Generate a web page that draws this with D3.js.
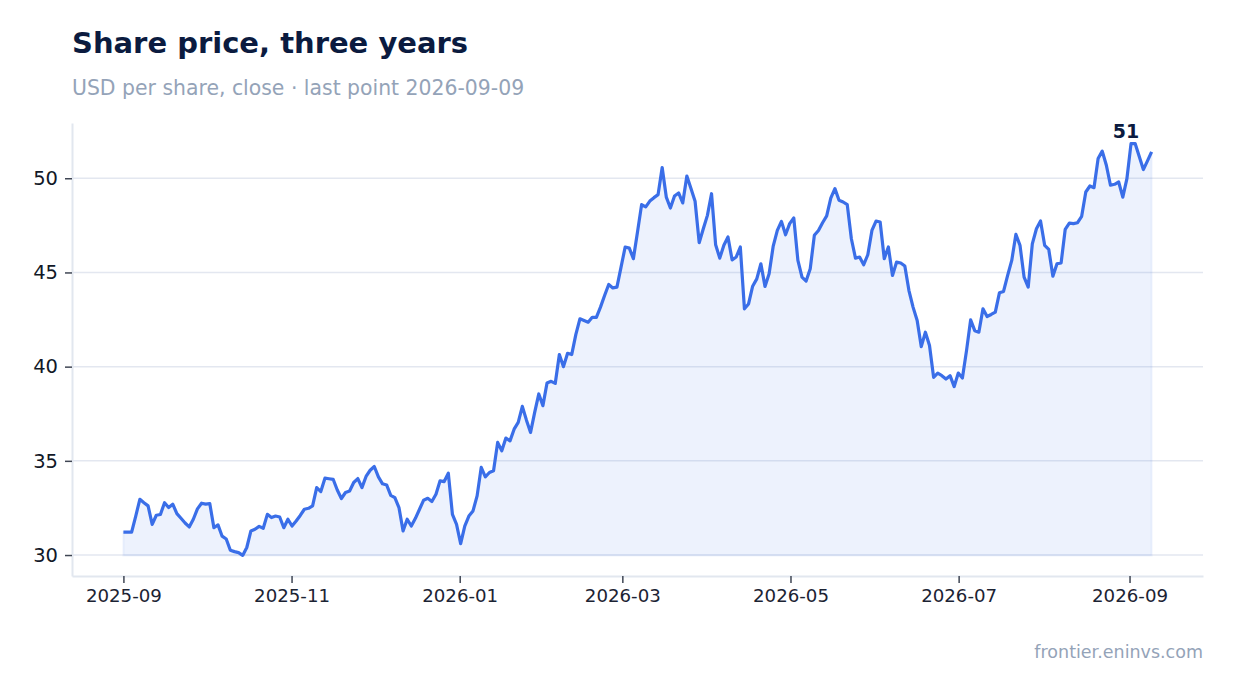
<!DOCTYPE html>
<html>
<head>
<meta charset="utf-8">
<script src="https://cdn.jsdelivr.net/npm/d3@7"></script>
<style>
  body { margin: 0; background: #fff; }
  svg { display: block; font-family: "DejaVu Sans", sans-serif; }
</style>
</head>
<body>
<svg id="chart" width="1234" height="693"></svg>
<script>
// first and last close, points are evenly spaced in between
const startDate = "2025-09-01";
const endDate = "2026-09-09";

// closing price, USD per share
const closes = [
  31.22, 31.22, 31.22, 32.07, 32.96, 32.78, 32.61, 31.63, 32.11, 32.15,
  32.78, 32.52, 32.70, 32.20, 31.95, 31.70, 31.49, 31.90, 32.45, 32.75,
  32.70, 32.73, 31.45, 31.60, 31.00, 30.85, 30.25, 30.18, 30.13, 29.98,
  30.40, 31.28, 31.37, 31.52, 31.42, 32.16, 31.99, 32.07, 32.02, 31.45,
  31.90, 31.54, 31.81, 32.10, 32.43, 32.48, 32.61, 33.58, 33.37, 34.08,
  34.05, 34.02, 33.45, 33.00, 33.32, 33.40, 33.85, 34.06, 33.58, 34.17,
  34.50, 34.70, 34.15, 33.78, 33.72, 33.17, 33.05, 32.52, 31.28, 31.90,
  31.54, 31.95, 32.43, 32.91, 33.01, 32.84, 33.23, 33.94, 33.90, 34.34,
  32.16, 31.63, 30.60, 31.54, 32.07, 32.34, 33.14, 34.65, 34.15, 34.38,
  34.47, 35.98, 35.53, 36.21, 36.06, 36.68, 37.04, 37.89, 37.16, 36.51,
  37.57, 38.55, 37.93, 39.13, 39.22, 39.11, 40.64, 40.00, 40.71, 40.64,
  41.70, 42.54, 42.45, 42.36, 42.62, 42.62, 43.16, 43.78, 44.36, 44.18,
  44.22, 45.28, 46.35, 46.29, 45.73, 47.15, 48.60, 48.48, 48.79, 48.97,
  49.13, 50.57, 49.00, 48.42, 49.06, 49.22, 48.69, 50.12, 49.45, 48.78,
  46.58, 47.32, 48.03, 49.18, 46.47, 45.76, 46.44, 46.88, 45.67, 45.82,
  46.35, 43.07, 43.33, 44.27, 44.66, 45.46, 44.26, 44.93, 46.40, 47.23,
  47.71, 47.00, 47.59, 47.89, 45.64, 44.75, 44.54, 45.20, 46.97, 47.23,
  47.64, 48.00, 48.95, 49.45, 48.83, 48.74, 48.60, 46.79, 45.76, 45.82,
  45.41, 45.94, 47.23, 47.73, 47.68, 45.73, 46.35, 44.84, 45.55, 45.50,
  45.34, 44.04, 43.16, 42.45, 41.06, 41.83, 41.12, 39.43, 39.65, 39.52,
  39.34, 39.52, 38.94, 39.66, 39.40, 40.85, 42.48, 41.91, 41.83, 43.07,
  42.66, 42.77, 42.89, 43.92, 43.99, 44.84, 45.64, 47.02, 46.44, 44.75,
  44.22, 46.52, 47.32, 47.73, 46.44, 46.22, 44.80, 45.46, 45.51, 47.29,
  47.62, 47.59, 47.64, 47.98, 49.27, 49.59, 49.50, 51.05, 51.44, 50.69,
  49.63, 49.68, 49.80, 49.00, 49.98, 51.84, 51.84, 51.15, 50.46, 50.92,
  51.40
];

const yTicks = [30, 35, 40, 45, 50];

const title = "Share price, three years";
const subtitle = "USD per share, close \u00b7 last point " + endDate;
const source = "frontier.eninvs.com";

const lineColor = "#3a6ee8";

const svg = d3.select("#chart");
const plotL = 72, plotR = 1203, plotT = 123, plotB = 576;

const t0 = d3.utcParse("%Y-%m-%d")(startDate);
const t1 = d3.utcParse("%Y-%m-%d")(endDate);
const step = (t1 - t0) / (closes.length - 1);
const data = closes.map((v, i) => ({ date: new Date(+t0 + i * step), value: v }));

const pad = (t1 - t0) * 0.05;
const x = d3.scaleUtc()
  .domain([new Date(+t0 - pad), new Date(+t1 + pad)])
  .range([plotL, plotR]);

const lo = d3.min(closes), hi = d3.max(closes);
const ypad = (hi - lo) * 0.05;
const y = d3.scaleLinear()
  .domain([lo - ypad, hi + ypad])
  .range([plotB, plotT]);

// title block
svg.append("text")
  .attr("x", 72).attr("y", 53)
  .attr("font-size", 29).attr("font-weight", "bold")
  .attr("fill", "#0b1b3f")
  .text(title);

svg.append("text")
  .attr("x", 72).attr("y", 95)
  .attr("font-size", 20.4)
  .attr("fill", "#94a3b8")
  .text(subtitle);

// grid
svg.append("g")
  .selectAll("line")
  .data(yTicks)
  .join("line")
  .attr("x1", plotL).attr("x2", plotR)
  .attr("y1", d => y(d)).attr("y2", d => y(d))
  .attr("stroke", "#e3e7f0").attr("stroke-width", 1.5);

// area + line
const area = d3.area()
  .x(d => x(d.date))
  .y0(y(lo))
  .y1(d => y(d.value));

svg.append("path")
  .datum(data)
  .attr("d", area)
  .attr("fill", lineColor).attr("fill-opacity", 0.09)
  .attr("stroke", lineColor).attr("stroke-opacity", 0.07).attr("stroke-width", 2);

const line = d3.line()
  .x(d => x(d.date))
  .y(d => y(d.value));

svg.append("path")
  .datum(data)
  .attr("d", line)
  .attr("fill", "none")
  .attr("stroke", lineColor)
  .attr("stroke-width", 3.2)
  .attr("stroke-linejoin", "round");

// axes
const xAxis = d3.axisBottom(x)
  .ticks(d3.utcMonth.every(2))
  .tickFormat(d3.utcFormat("%Y-%m"))
  .tickSizeInner(7)
  .tickSizeOuter(0)
  .tickPadding(6);

const gx = svg.append("g")
  .attr("transform", `translate(0,${plotB})`)
  .call(xAxis);

const yAxis = d3.axisLeft(y)
  .tickValues(yTicks)
  .tickSizeInner(7)
  .tickSizeOuter(0)
  .tickPadding(7);

const gy = svg.append("g")
  .attr("transform", `translate(${plotL},0)`)
  .call(yAxis);

[gx, gy].forEach(g => {
  g.select(".domain").attr("stroke", "#e2e7ef").attr("stroke-width", 2);
  g.selectAll(".tick line").attr("stroke", "#3f4654").attr("stroke-width", 1.5);
  g.selectAll(".tick text")
    .attr("font-family", "DejaVu Sans, sans-serif")
    .attr("font-size", 18.2)
    .attr("fill", "#1c2333");
});
gy.selectAll(".tick text").attr("font-size", 19.5).attr("fill", "#111827");

// peak label
const peak = data[d3.maxIndex(closes)];
svg.append("text")
  .attr("x", x(peak.date) - 5)
  .attr("y", y(peak.value) - 6)
  .attr("text-anchor", "middle")
  .attr("font-size", 19).attr("font-weight", "bold")
  .attr("fill", "#0b1b3f")
  .text(Math.floor(peak.value));

svg.append("text")
  .attr("x", plotR).attr("y", 658)
  .attr("text-anchor", "end")
  .attr("font-size", 17.5)
  .attr("fill", "#94a3b8")
  .text(source);
</script>
</body>
</html>
